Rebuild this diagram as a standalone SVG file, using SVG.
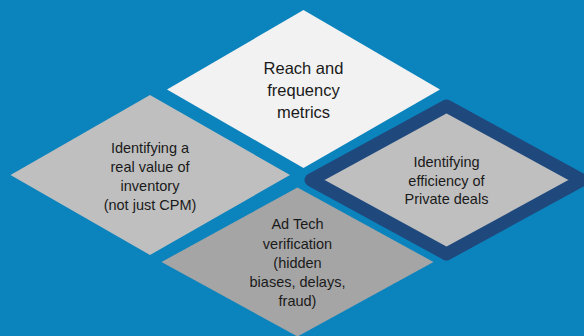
<svg xmlns="http://www.w3.org/2000/svg" width="584" height="336" viewBox="0 0 584 336">
<style>
  .lbl { font-family: "Liberation Sans", Arial, sans-serif; fill: #1a1a1a; text-anchor: middle; }
  .big { font-size: 16.5px; }
  .sm { font-size: 14.5px; }
</style>
<rect x="0" y="0" width="584" height="336" fill="#0B83BC"/>
<g id="connectors"></g>
<g id="node-reach">
  <path d="M303.5,10 L440,89.5 L303.5,168 L167,89.5 Z" fill="#F2F2F2"/>
  <text class="lbl big" x="303.5" y="74">Reach and</text>
  <text class="lbl big" x="303.5" y="96">frequency</text>
  <text class="lbl big" x="303.5" y="118">metrics</text>
</g>
<g id="node-inventory">
  <path d="M150,95 L290,175 L150,255 L10.5,175 Z" fill="#BFBFBF"/>
  <text class="lbl sm" x="150" y="152.7">Identifying a</text>
  <text class="lbl sm" x="150" y="171.7">real value of</text>
  <text class="lbl sm" x="150" y="191">inventory</text>
  <text class="lbl sm" x="150" y="210">(not just CPM)</text>
</g>
<g id="node-adtech">
  <path d="M297.5,187.5 L433.5,262 L297.5,336.5 L161.5,262 Z" fill="#A5A5A5"/>
  <text class="lbl sm" x="297.5" y="229.3">Ad Tech</text>
  <text class="lbl sm" x="297.5" y="249">verification</text>
  <text class="lbl sm" x="297.5" y="267.7">(hidden</text>
  <text class="lbl sm" x="297.5" y="286.7">biases, delays,</text>
  <text class="lbl sm" x="297.5" y="306">fraud)</text>
</g>
<g id="node-private">
  <path d="M446.5,106 L582,180 L446.5,254 L311,180 Z" fill="#BFBFBF" stroke="#1F497D" stroke-width="13" stroke-linejoin="round"/>
  <text class="lbl sm" x="446.5" y="167.3">Identifying</text>
  <text class="lbl sm" x="446.5" y="185.7">efficiency of</text>
  <text class="lbl sm" x="446.5" y="204.3">Private deals</text>
</g>
</svg>
